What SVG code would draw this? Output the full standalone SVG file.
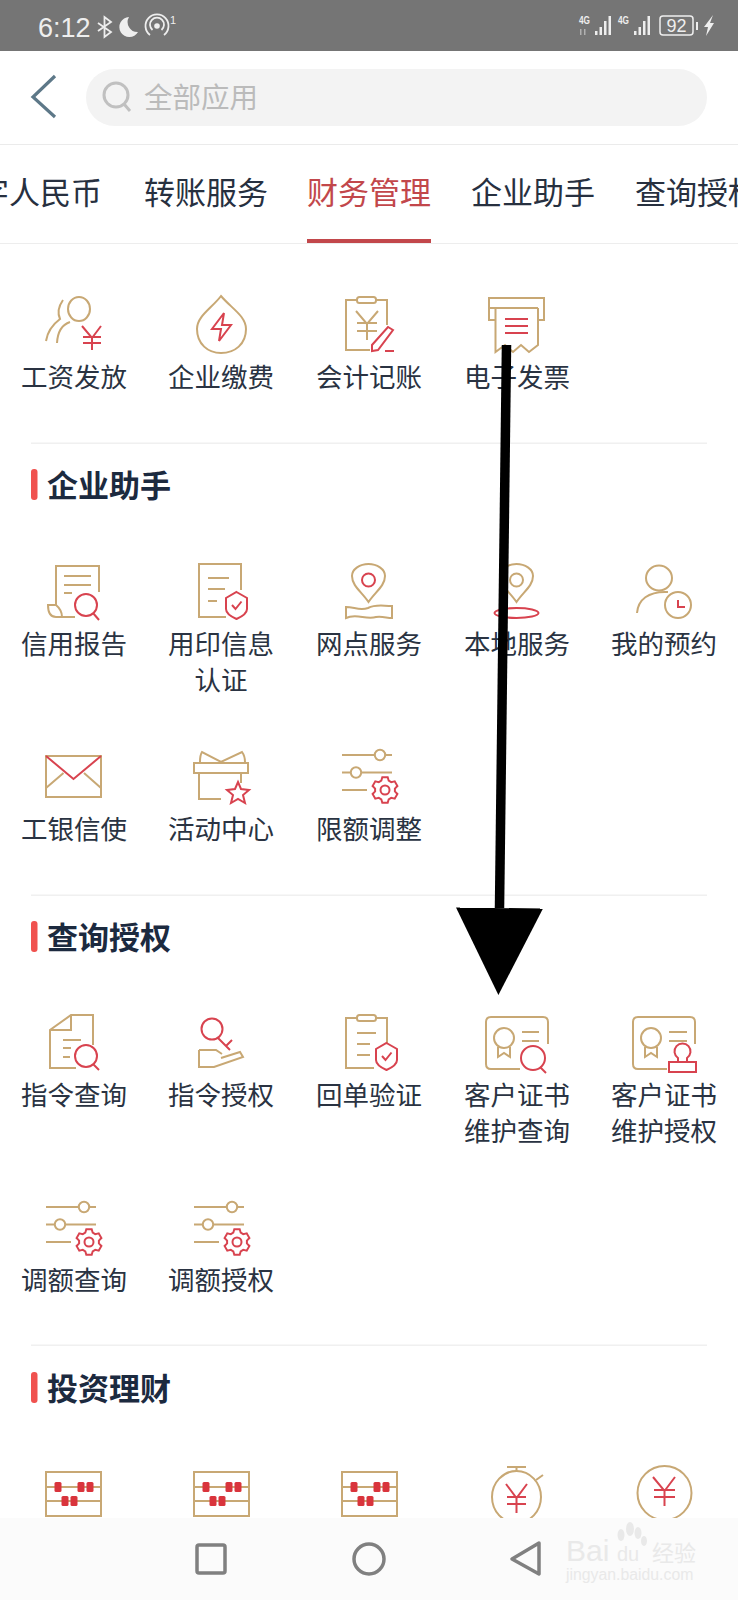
<svg xmlns="http://www.w3.org/2000/svg" xmlns:xlink="http://www.w3.org/1999/xlink" width="738" height="1600" viewBox="0 0 738 1600">
<style>
text{font-family:"Noto Sans CJK SC","Noto Sans",sans-serif}
.l{font-size:26.500px;fill:#2a3342;text-anchor:middle}
.h{font-size:31px;font-weight:700;fill:#1c2a3f}
.t{font-size:31px;fill:#27303f}
.g{fill:none;stroke:#c8a874;stroke-width:2}
.r{fill:none;stroke:#d8434f;stroke-width:2}
.sep{fill:#f0f0f0}
.bar{fill:#f0524f}
.nav{fill:none;stroke:#808080;stroke-width:3.500;stroke-linejoin:round}
.wm{fill:#e9e9e9}
.st{fill:#eeeeee}
</style>
<defs>
<g id="sliders">
<path class="g" d="M0 0H33M44 0H50M0 17.500H8.500M19.500 17.500H50M0 35H25"/>
<circle class="g" cx="38" cy="0" r="5.200"/><circle class="g" cx="14" cy="17.500" r="5.200"/>
<g transform="translate(43,35)"><path class="r" d="M-2.700-12.700L2.700-12.700 3.700-9.300 6.200-7.900 9.700-8.700 12.400-4 9.900-1.400 9.900 1.400 12.400 4 9.700 8.700 6.200 7.900 3.700 9.300 2.700 12.700-2.700 12.700-3.700 9.300-6.200 7.900-9.700 8.700-12.400 4-9.900 1.400-9.900-1.400-12.400-4-9.700-8.700-6.200-7.900-3.700-9.300Z"/><circle class="r" cx="0" cy="0" r="4.500"/></g>
</g>
<g id="abacus">
<rect class="g" x="0" y="0" width="55" height="44"/>
<path class="g" d="M0 15H55M0 29H55"/>
<g fill="#d9343c"><rect x="8.500" y="10" width="7" height="10" rx="1.500"/><rect x="31.500" y="10" width="7" height="10" rx="1.500"/><rect x="40.500" y="10" width="7" height="10" rx="1.500"/><rect x="15.500" y="24" width="7" height="10" rx="1.500"/><rect x="24.500" y="24" width="7" height="10" rx="1.500"/></g>
</g>
<g id="shield"><path class="r" d="M10.500 0L21 6V17C21 22 15 25 10.500 27C6 25 0 22 0 17V6Z"/><path class="r" d="M6 13L9.500 17L15.500 9.500"/></g>
<g id="card"><path class="g" d="M34 52H5Q0 52 0 47V5Q0 0 5 0H57Q62 0 62 5V27"/><circle class="g" cx="18" cy="21" r="10"/><path class="g" d="M12 30V40L18 36L24 40V30"/></g>
<marker id="head" markerUnits="userSpaceOnUse" markerWidth="87" markerHeight="87" viewBox="0 0 87 87" refX="0" refY="43.500" orient="auto"><path d="M0 0L87 43.500L0 87Z" fill="#000"/></marker>
</defs>
<rect width="738" height="1600" fill="#ffffff"/>
<g id="status-bar">
<rect width="738" height="51" fill="#757575"/>
<text x="38" y="37" class="st" style="font-family:'Liberation Sans',sans-serif;font-size:27px">6:12</text>
<path d="M98 23L111 32L104.500 37V17L111 22L98 31" fill="none" stroke="#eee" stroke-width="1.800"/>
<path class="st" d="M129 17A10 10 0 1 0 138 32A10 10 0 0 1 129 17Z"/>
<path d="M150 35A11.500 11.500 0 1 1 164 35M152.500 30A7 7 0 1 1 161.500 30" fill="none" stroke="#eee" stroke-width="1.800"/>
<circle class="st" cx="157" cy="26" r="2.800"/>
<text x="170" y="24" class="st" style="font-family:'Liberation Sans',sans-serif;font-size:11px">1</text>
<text x="579" y="24" class="st" style="font-family:'Liberation Sans',sans-serif;font-size:10.500px;font-weight:700" textLength="11" lengthAdjust="spacingAndGlyphs">4G</text>
<text x="618" y="24" class="st" style="font-family:'Liberation Sans',sans-serif;font-size:10.500px;font-weight:700" textLength="11" lengthAdjust="spacingAndGlyphs">4G</text>
<path class="st" d="M580 29h1.500v6H580zM584 29h1.500v6H584z" opacity=".5"/>
<path class="st" d="M595 31h2.500v4H595zM599.500 27h2.500v8h-2.500zM604 21h2.500v14H604zM608.500 16h2.500v19h-2.500zM634 31h2.500v4H634zM638.500 27h2.500v8h-2.500zM643 21h2.500v14H643zM647.500 16h2.500v19h-2.500z"/>
<rect x="660" y="16" width="33" height="19" rx="3" fill="none" stroke="#eee" stroke-width="1.500"/>
<text x="676.500" y="32" class="st" text-anchor="middle" style="font-family:'Liberation Sans',sans-serif;font-size:18px">92</text>
<rect class="st" x="696" y="22" width="2" height="8"/>
<path class="st" d="M713 15L704 27H708L706 36L714 23H710Z"/>
</g>
<g id="search-bar">
<path d="M55 76L33 97L55 117" fill="none" stroke="#5d7888" stroke-width="3.200"/>
<rect x="86" y="69" width="621" height="57" rx="28.500" fill="#f3f3f3"/>
<circle cx="116" cy="95" r="12" fill="none" stroke="#c0c0c0" stroke-width="3"/><path d="M124 104L130 111" stroke="#c0c0c0" stroke-width="3"/>
<text x="144" y="108" style="font-size:28.500px;fill:#bbbbbb">全部应用</text>
<rect y="144" width="738" height="1" fill="#ebebeb"/>
</g>
<g id="tabs">
<text class="t" x="-22" y="204">字人民币</text>
<text class="t" x="144" y="204">转账服务</text>
<text class="t" x="307" y="204" style="fill:#c2474b">财务管理</text>
<text class="t" x="471" y="204">企业助手</text>
<text class="t" x="635" y="204">查询授权</text>
<rect y="243" width="738" height="1" fill="#ededed"/>
<rect x="307" y="239" width="124" height="4" fill="#c2474b"/>
</g>

<g id="gongzi"><ellipse class="g" cx="79" cy="309" rx="11" ry="12"/><path class="g" d="M63 300Q56 310 60 319Q48 328 46 341M70 322Q58 326 57 343"/><path class="r" d="M82 326L92 338L101 326M83 337H101M83 343H101M92 338V350"/><text class="l" x="74" y="387">工资发放</text></g>
<g id="jiaofei"><path class="g" d="M221 296C212 308 197 316 197 329C197 344 208 353 221 353C235 353 246 344 246 329C246 316 231 308 221 296Z"/><path class="r" d="M224 313L212 329L221 329L219 341L231 325L222 325Z"/><text class="l" x="221" y="387">企业缴费</text></g>
<g id="jizhang"><path class="g" d="M387 325V300H376M357 300H346V350H370"/><rect class="g" x="357" y="297" width="19" height="6" rx="2.500"/><path class="g" d="M356 311L367 324L378 311M357 323H377M357 331H377M367 324V340"/><path class="r" d="M393 330L388 327L372 345L372 351L378 350Z"/><path class="r" d="M385 351H394"/><text class="l" x="369" y="387">会计记账</text></g>
<g id="fapiao"><path class="g" d="M495 320H489V298H544V320H538M489 308H538"/><path class="g" d="M495.500 308V352L505 345L513 352L521 345L529 352L538 345V308"/><path class="r" d="M505 319H528M505 326H528M505 333H528"/><text class="l" x="517" y="387">电子发票</text></g>

<g id="section-qiye"><rect class="sep" x="31" y="442.500" width="676" height="1.500"/><rect class="bar" x="31" y="469" width="6.500" height="31" rx="3"/><text class="h" x="47" y="497">企业助手</text></g>

<g id="xinyong"><path class="g" d="M99 592V566H56V605M64 576H91M64 585H91M64 593H72"/><path class="g" d="M56 605H48Q48 617 56 617H75M56 605Q62 610 62 617"/><circle class="r" cx="86" cy="605" r="11"/><path class="r" d="M93 613L99 620"/><text class="l" x="74" y="654">信用报告</text></g>
<g id="yongyin"><path class="g" d="M241 590V564H199V617H226M208 578H229M208 589H225M208 601H217"/><use href="#shield" x="226" y="592"/><text class="l" x="221" y="654">用印信息</text><text class="l" x="221" y="690">认证</text></g>
<g id="wangdian"><path class="g" d="M368.500 602C362 592 352 586 352 576C352 569 360 564 368.500 564C377 564 385 569 385 576C385 586 375 592 368.500 602Z"/><circle class="r" cx="368.500" cy="580" r="6.500"/><path class="g" d="M346 607V618C356 613 366 620 376 617C382 616 387 618 392 618V606C382 606 376 604 368 608C360 611 354 607 346 607Z"/><text class="l" x="369" y="654">网点服务</text></g>
<g id="bendi"><path class="g" d="M516.500 602C510 592 500 586 500 576C500 569 508 564 516.500 564C525 564 533 569 533 576C533 586 523 592 516.500 602Z"/><circle class="g" cx="516.500" cy="580" r="6.500"/><ellipse class="r" cx="516.500" cy="613" rx="22" ry="5"/><text class="l" x="517" y="654">本地服务</text></g>
<g id="yuyue"><ellipse class="g" cx="659" cy="578" rx="13" ry="12.500"/><path class="g" d="M637 613C638 600 648 591 668 592"/><circle class="g" cx="678" cy="605" r="13"/><path class="r" d="M678 600V607H685"/><text class="l" x="664" y="654">我的预约</text></g>

<g id="gongyin"><rect class="g" x="46" y="756" width="55" height="41"/><path class="g" d="M46 788L63.500 773M101 788L84 773"/><path class="r" d="M46 756L73.500 779L101 756"/><text class="l" x="74" y="839">工银信使</text></g>
<g id="huodong"><rect class="g" x="194" y="763" width="54" height="10"/><path class="g" d="M199 773V799H221M241 773V783M200 762Q200 755 202 752L221 762L242 752Q245 756 245 762"/><path class="r" d="M238 782L241 789L249 790L243 795L245 803L238 799L231 803L233 795L227 790L235 789Z"/><text class="l" x="221" y="839">活动中心</text></g>
<g id="xiane"><use href="#sliders" x="342" y="755"/><text class="l" x="369" y="839">限额调整</text></g>

<g id="section-chaxun"><rect class="sep" x="31" y="894.500" width="676" height="1.500"/><rect class="bar" x="31" y="921" width="6.500" height="31" rx="3"/><text class="h" x="47" y="949">查询授权</text></g>

<g id="zhiling-cx"><path class="g" d="M93 1045V1015H71L50 1030V1068H76M71 1015V1030H50M63 1040H81M63 1048H71M63 1057H70"/><circle class="r" cx="86" cy="1056" r="11"/><path class="r" d="M93 1064L99 1070"/><text class="l" x="74" y="1105">指令查询</text></g>
<g id="zhiling-sq"><circle class="r" cx="212" cy="1029" r="10.500"/><path class="r" d="M218 1038L230 1050M226 1046L232 1040"/><path class="g" d="M199 1050H216L222 1054M199 1050V1067H214L243 1057L240 1052L221 1058"/><text class="l" x="221" y="1105">指令授权</text></g>
<g id="huidan"><path class="g" d="M387 1043V1018H376M357 1018H346V1068H374M357 1033H376M357 1044H370M357 1055H370"/><rect class="g" x="357" y="1015" width="19" height="6" rx="2.500"/><use href="#shield" x="376" y="1043"/><text class="l" x="369" y="1105">回单验证</text></g>
<g id="zhengshu-cx"><use href="#card" x="486" y="1017"/><path class="g" d="M522 1032H539M522 1041H539"/><circle class="r" cx="533" cy="1058" r="12"/><path class="r" d="M540 1067L546 1073"/><text class="l" x="517" y="1105">客户证书</text><text class="l" x="517" y="1141">维护查询</text></g>
<g id="zhengshu-sq"><use href="#card" x="633" y="1017"/><path class="g" d="M669 1032H687M669 1041H687"/><path class="r" d="M678 1062V1058A8 8 0 1 1 687 1058V1062M669 1062H696V1072H669Z"/><text class="l" x="664" y="1105">客户证书</text><text class="l" x="664" y="1141">维护授权</text></g>

<g id="tiaoe-cx"><use href="#sliders" x="46" y="1207"/><text class="l" x="74" y="1290">调额查询</text></g>
<g id="tiaoe-sq"><use href="#sliders" x="194" y="1207"/><text class="l" x="221" y="1290">调额授权</text></g>

<g id="section-touzi"><rect class="sep" x="31" y="1344.500" width="676" height="1.500"/><rect class="bar" x="31" y="1372" width="6.500" height="31" rx="3"/><text class="h" x="47" y="1400">投资理财</text></g>

<g id="touzi-1"><use href="#abacus" x="46" y="1472"/></g>
<g id="touzi-2"><use href="#abacus" x="194" y="1472"/></g>
<g id="touzi-3"><use href="#abacus" x="342" y="1472"/></g>
<g id="touzi-4"><ellipse class="g" cx="516.500" cy="1497" rx="24.500" ry="26"/><path class="g" d="M507 1467H526M516.500 1467V1471M536 1480L543 1475"/><path class="r" d="M506 1484L516.500 1498L527 1484M507 1497H526M507 1504H526M516.500 1498V1513"/></g>
<g id="touzi-5"><circle class="g" cx="664.500" cy="1493" r="27"/><path class="r" d="M653 1477L664.500 1491L675 1477M654 1490H675M654 1497H675M664.500 1491V1506"/></g>

<g id="connectors">
<line x1="506.500" y1="345" x2="499.500" y2="908" stroke="#000" stroke-width="9.500" marker-end="url(#head)"/>
</g>

<g id="nav-bar">
<rect y="1518" width="738" height="82" fill="#fbfbfb"/>
<rect class="nav" x="197" y="1545" width="28" height="28" rx="2"/>
<circle class="nav" cx="369" cy="1559" r="15"/>
<path class="nav" d="M539 1543L512 1559L539 1574Z"/>
</g>
<g id="watermark">
<ellipse class="wm" cx="630" cy="1529" rx="4" ry="7"/><ellipse class="wm" cx="621" cy="1535" rx="3.500" ry="6"/><ellipse class="wm" cx="638" cy="1533" rx="3.500" ry="6"/><ellipse class="wm" cx="644" cy="1541" rx="3" ry="5"/>
<text class="wm" x="566" y="1561" style="font-family:'Liberation Sans',sans-serif;font-size:30px">Bai</text>
<text class="wm" x="617" y="1561" style="font-family:'Liberation Sans',sans-serif;font-size:20px">du</text>
<text class="wm" x="652" y="1561" style="font-size:22px">经验</text>
<text class="wm" x="566" y="1580" style="font-family:'Liberation Sans',sans-serif;font-size:15.800px">jingyan.baidu.com</text>
</g>
</svg>
